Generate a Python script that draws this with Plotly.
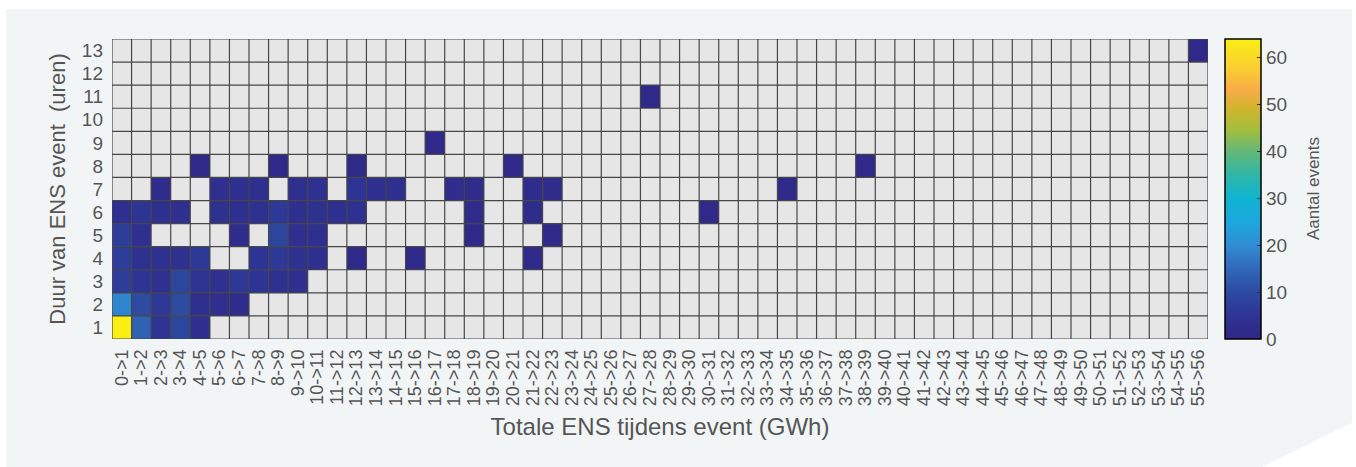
import plotly.graph_objects as go

# ---- data ----
n_bins = 56
bin_labels = [f"{i}->{i+1}" for i in range(n_bins)]
hours = list(range(1, 14))

# counts per duration (hours), from energy bin 0 upward (remaining bins are 0)
counts_1h = [64, 14, 5, 9, 3]
counts_2h = [19, 10, 6, 10, 3, 3, 2]
counts_3h = [7, 5, 4, 9, 5, 4, 6, 5, 4, 3]
counts_4h = [7, 4, 4, 4, 6, 0, 0, 5, 6, 4, 3, 0, 1, 0, 0, 1, 0, 0, 0, 0, 0, 1]
counts_5h = [7, 3, 0, 0, 0, 0, 2, 0, 9, 3, 3, 0, 0, 0, 0, 0, 0, 0, 1, 0, 0, 0, 1]
counts_6h = [3, 5, 3, 3, 0, 4, 3, 4, 6, 3, 4, 3, 4, 0, 0, 0, 0, 0, 2, 0, 0, 2,
             0, 0, 0, 0, 0, 0, 0, 0, 1]
counts_7h = [0, 0, 2, 0, 0, 3, 3, 3, 0, 3, 4, 0, 5, 3, 3, 0, 0, 2, 2, 0, 0, 2, 2,
             0, 0, 0, 0, 0, 0, 0, 0, 0, 0, 0, 1]
counts_8h = [0, 0, 0, 0, 1, 0, 0, 0, 1, 0, 0, 0, 1, 0, 0, 0, 0, 0, 0, 0, 1,
             0, 0, 0, 0, 0, 0, 0, 0, 0, 0, 0, 0, 0, 0, 0, 0, 0, 1]
counts_9h = [0, 0, 0, 0, 0, 0, 0, 0, 0, 0, 0, 0, 0, 0, 0, 0, 1]
counts_10h = []
counts_11h = [0, 0, 0, 0, 0, 0, 0, 0, 0, 0, 0, 0, 0, 0, 0, 0, 0, 0, 0, 0, 0, 0,
              0, 0, 0, 0, 0, 1]
counts_12h = []
counts_13h = [0] * 55 + [1]

rows = [counts_1h, counts_2h, counts_3h, counts_4h, counts_5h, counts_6h, counts_7h,
        counts_8h, counts_9h, counts_10h, counts_11h, counts_12h, counts_13h]

z = []
for r in rows:
    full = list(r) + [0] * (n_bins - len(r))
    z.append([v if v > 0 else None for v in full])

parula_like = [
    [0.00, "rgb(47,39,134)"], [0.08, "rgb(46,52,147)"], [0.16, "rgb(44,76,162)"],
    [0.24, "rgb(50,106,186)"], [0.31, "rgb(48,140,210)"], [0.39, "rgb(28,168,222)"],
    [0.47, "rgb(15,180,208)"], [0.55, "rgb(50,182,165)"], [0.625, "rgb(100,183,120)"],
    [0.70, "rgb(165,190,60)"], [0.77, "rgb(210,180,45)"], [0.83, "rgb(248,172,70)"],
    [0.90, "rgb(250,205,50)"], [1.00, "rgb(250,238,20)"],
]

FONT = "Liberation Sans, Arial, sans-serif"
TXT = "#555555"

L, R, T, B, W, H = 112, 148, 39, 128, 1356, 467
pw, ph = W - L - R, H - T - B
def px(x): return (x - L) / pw
def py(y): return (H - B - y) / ph

fig = go.Figure(go.Heatmap(
    x=list(range(n_bins)), y=hours, z=z,
    zmin=0, zmax=64, colorscale=parula_like,
    hoverongaps=False,
    colorbar=dict(
        x=px(1225), xanchor="left", xpad=0, y=0.5, yanchor="middle",
        len=1, lenmode="fraction", ypad=0,
        thickness=36, thicknessmode="pixels",
        outlinecolor="black", outlinewidth=1.5,
        tickvals=[0, 10, 20, 30, 40, 50, 60],
        ticks="inside", ticklen=4, tickcolor="#333333",
        tickfont=dict(family=FONT, size=19, color=TXT),
    ),
))

panel = (f"M {px(6)} {py(9)} L {px(1352)} {py(9)} L {px(1352)} {py(423)} "
         f"L {px(1262)} {py(467)} L {px(6)} {py(467)} Z")
shapes = [
    dict(type="path", path=panel, xref="paper", yref="paper",
         fillcolor="#f2f5f6", line=dict(width=0), layer="below"),
    dict(type="rect", x0=0, x1=1, y0=0, y1=1, xref="paper", yref="paper",
         fillcolor="#e6e6e6", line=dict(width=0), layer="below"),
]
grid_col = "#474747"
for i in range(n_bins + 1):
    shapes.append(dict(type="line", xref="x", yref="y", x0=i - 0.5, x1=i - 0.5,
                       y0=0.5, y1=len(hours) + 0.5, line=dict(color=grid_col, width=1.2),
                       layer="above"))
for j in range(len(hours) + 1):
    shapes.append(dict(type="line", xref="x", yref="y", x0=-0.5, x1=n_bins - 0.5,
                       y0=j + 0.5, y1=j + 0.5, line=dict(color=grid_col, width=1.2),
                       layer="above"))

fig.update_layout(
    width=W, height=H,
    margin=dict(l=L, r=R, t=T, b=B),
    paper_bgcolor="white", plot_bgcolor="#e6e6e6",
    shapes=shapes,
    font=dict(family=FONT, color=TXT),
    annotations=[dict(
        text="Aantal events", x=px(1313), y=0.5, xref="paper", yref="paper",
        xanchor="center", yanchor="middle", textangle=-90, showarrow=False,
        font=dict(family=FONT, size=17, color=TXT),
    )],
    xaxis=dict(
        range=[-0.5, n_bins - 0.5], tickmode="array",
        tickvals=list(range(n_bins)), ticktext=bin_labels, tickangle=-90,
        showgrid=False, zeroline=False, ticks="", ticklabelstandoff=6,
        tickfont=dict(family=FONT, size=18, color=TXT),
        title=dict(text="Totale ENS tijdens event (GWh)", standoff=13,
                   font=dict(family=FONT, size=24, color=TXT)),
    ),
    yaxis=dict(
        range=[0.5, len(hours) + 0.5], tickmode="array", tickvals=hours,
        showgrid=False, zeroline=False, ticks="", ticklabelstandoff=8,
        tickfont=dict(family=FONT, size=19, color=TXT),
        title=dict(text="Duur van ENS event  (uren)", standoff=10,
                   font=dict(family=FONT, size=22, color=TXT)),
    ),
)

fig.write_html("out.html")
